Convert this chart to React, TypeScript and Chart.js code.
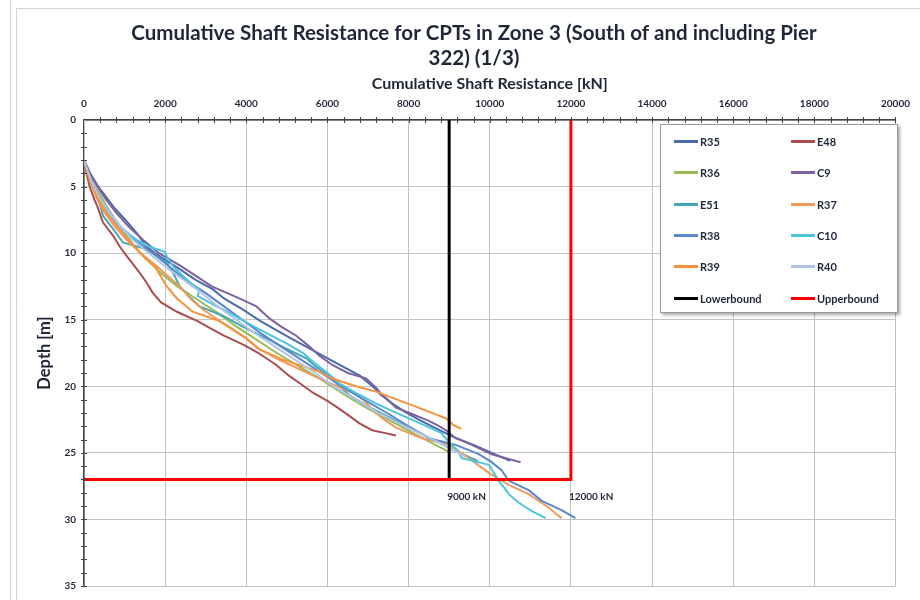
import React, { useEffect, useRef } from "react";
import { Chart, registerables } from "chart.js";

Chart.register(...registerables);

const TITLE_LINES = [
  "Cumulative Shaft Resistance for CPTs in Zone 3 (South of and including Pier",
  "322) (1/3)",
];
const X_TITLE = "Cumulative Shaft Resistance [kN]";
const Y_TITLE = "Depth [m]";
const X_MIN = 0;
const X_MAX = 20000;
const X_STEP = 2000;
const X_MINOR = 400;
const Y_MIN = 0;
const Y_MAX = 35;
const Y_STEP = 5;
const Y_MINOR = 1;

const SERIES_NAMES = ["R35", "E48", "R36", "C9", "E51", "R37", "R38", "C10", "R39", "R40", "Lowerbound", "Upperbound"];
const SERIES_COLORS = [
  "#4A6BA8", "#A84E4E", "#9BBB59", "#7E62A0", "#45A6B8", "#EE9A5C",
  "#5A86CC", "#4CC4DE", "#F7923A", "#B2C5E2", "#000000", "#FF0000",
];

// depth [m] / cumulative shaft resistance [kN]
const R35_DEPTH = [3, 4, 5, 5.5, 6.5, 7.6, 8.5, 9.5, 10, 10.6, 11.2, 12, 12.7, 13.4, 14.2, 15.1, 15.8, 16.4, 17.4, 18.4, 19.2, 20.1, 20.6, 21.3, 21.9, 22.5, 23.2, 23.8, 24.4, 25, 25.6];
const R35_KN = [0, 150, 350, 480, 720, 1050, 1300, 1540, 1750, 2050, 2360, 2750, 3170, 3450, 3900, 4350, 4750, 5100, 5700, 6300, 6800, 7150, 7300, 7600, 7900, 8250, 8700, 9100, 9600, 10050, 10500];

const E48_DEPTH = [3, 4, 5, 6, 6.5, 7.7, 8.7, 9.5, 10.2, 11, 11.6, 12.2, 13, 13.7, 14.4, 15.1, 15.7, 16.2, 16.9, 17.5, 18.4, 19.2, 19.9, 20.5, 21.1, 21.6, 22.2, 22.8, 23.3, 23.5, 23.7];
const E48_KN = [0, 60, 140, 260, 330, 470, 720, 880, 1050, 1250, 1400, 1540, 1700, 1900, 2290, 2800, 3150, 3450, 3950, 4300, 4740, 5050, 5380, 5650, 6000, 6250, 6530, 6800, 7100, 7400, 7690];

const R36_DEPTH = [3, 4, 5, 5.7, 6.6, 7.5, 8.5, 9.5, 10.5, 11.5, 12.5, 13.5, 14.5, 15.5, 16.5, 17.5, 18.5, 19.5, 20.5, 21.5, 22.5, 23.5, 24.3, 25];
const R36_KN = [0, 120, 260, 420, 580, 760, 1000, 1250, 1550, 1900, 2300, 2800, 3300, 3750, 4250, 4750, 5300, 5850, 6350, 6900, 7500, 8100, 8600, 9050];

const C9_DEPTH = [3, 4, 5, 6, 7, 8, 9, 10, 11, 11.9, 12.5, 13.4, 14, 14.9, 15.5, 16.2, 17, 17.7, 18.4, 19, 19.4, 20.1, 20.5, 21, 21.6, 22.1, 22.6, 23, 23.3, 23.9, 24.4, 25.1, 25.4, 25.7];
const C9_KN = [0, 140, 330, 550, 800, 1100, 1450, 1850, 2400, 2850, 3150, 3830, 4250, 4570, 4850, 5230, 5550, 5800, 6120, 6500, 6950, 7200, 7300, 7480, 7690, 8100, 8500, 8750, 8920, 9160, 9560, 10050, 10400, 10760];

const E51_DEPTH = [3, 4, 5, 6, 7.2, 8.2, 9.2, 9.7, 10.7, 11.5, 12.5, 13.3, 14, 14.7, 15.5, 16.4, 17.2, 17.9, 18.5, 19.2, 20, 20.7, 21.5, 22.3, 23, 23.7, 24.3, 24.8, 25.2, 25.6];
const E51_KN = [0, 100, 230, 360, 470, 720, 960, 1540, 2040, 2200, 2360, 2600, 2850, 3420, 3900, 4500, 5000, 5480, 5700, 6040, 6300, 6550, 7000, 7500, 7950, 8400, 8800, 9100, 9400, 9700];

const R37_DEPTH = [3, 4, 5, 6, 7, 8, 9, 10, 11, 12.5, 13.5, 14.2, 15, 15.7, 16.4, 17.2, 18, 18.7, 19.4, 20, 20.6, 21.2, 21.9, 22.5, 23.1, 23.5, 23.9, 24.4, 24.9, 25.4, 26, 26.5, 27, 27.4, 28.1, 28.6, 29.1, 29.5, 29.9];
const R37_KN = [0, 80, 200, 330, 520, 760, 1050, 1400, 1800, 2360, 2650, 2920, 3300, 3660, 4000, 4320, 4800, 5300, 5800, 6250, 6700, 6950, 7150, 7400, 7690, 8000, 8330, 9000, 9250, 9490, 9750, 9980, 10250, 10470, 10960, 11200, 11450, 11600, 11770];

const R38_DEPTH = [3, 4, 5, 6, 7, 8, 9, 10, 11, 12, 13, 14, 15, 16, 17, 18, 19, 20, 21, 22.1, 23, 23.9, 24.4, 25.1, 25.7, 26.3, 27.1, 27.8, 28.6, 29.3, 29.9];
const R38_KN = [0, 100, 250, 420, 650, 900, 1250, 1700, 2100, 2500, 3000, 3450, 3900, 4350, 4850, 5350, 5850, 6350, 6900, 7520, 8000, 8500, 9160, 9730, 10050, 10290, 10470, 10960, 11280, 11770, 12110];

const C10_DEPTH = [3, 4, 5, 6, 7, 8, 9, 9.5, 9.9, 10.3, 11, 11.6, 12.3, 12.8, 13.2, 13.8, 14.5, 15.2, 16, 16.8, 17.5, 18.3, 19, 19.8, 20.5, 21.3, 22, 22.8, 23.5, 24.2, 24.8, 25.4, 25.9, 26.5, 27.1, 27.6, 28.1, 28.5, 28.9, 29.4, 29.9];
const C10_KN = [0, 110, 240, 400, 580, 850, 1300, 1600, 1990, 2050, 2200, 2400, 2650, 2850, 2800, 3150, 3600, 4000, 4500, 5000, 5400, 5700, 6000, 6300, 6700, 7200, 7700, 8300, 8800, 9000, 9200, 9310, 9980, 10100, 10220, 10350, 10470, 10620, 10790, 11050, 11380];

const R39_DEPTH = [3, 4, 5, 6, 7, 8, 9, 10.2, 11, 12.5, 13.4, 14.4, 15.1, 16.4, 17.2, 18, 18.9, 19.4, 20, 20.4, 21.1, 21.9, 22.4, 22.9, 23.2];
const R39_KN = [0, 90, 220, 380, 560, 820, 1100, 1450, 1750, 2040, 2290, 2680, 3340, 4000, 4300, 4900, 5800, 6100, 6700, 7200, 7800, 8500, 8920, 9100, 9300];

const R40_DEPTH = [0, 3, 4, 5, 6, 7, 8, 9, 10, 11, 12, 13, 14, 15, 16, 17, 18, 19, 20, 21, 22, 23, 24, 24.6, 25.3];
const R40_KN = [0, 0, 110, 240, 420, 640, 900, 1200, 1600, 2000, 2450, 2900, 3300, 3750, 4200, 4700, 5200, 5700, 6150, 6700, 7250, 7900, 8600, 9000, 9400];

const LOWER_DEPTH = [0, 27];
const LOWER_KN = [9000, 9000];
const UPPER_DEPTH = [0, 27, 27];
const UPPER_KN = [12000, 12000, 0];

const BOUND_LABELS = ["9000 kN", "12000 kN"];
const BOUND_LABEL_KN = [9000, 12000];
const BOUND_LABEL_DEPTH = 28.3;

const SERIES_DEPTHS = [R35_DEPTH, E48_DEPTH, R36_DEPTH, C9_DEPTH, E51_DEPTH, R37_DEPTH, R38_DEPTH, C10_DEPTH, R39_DEPTH, R40_DEPTH, LOWER_DEPTH, UPPER_DEPTH];
const SERIES_KN = [R35_KN, E48_KN, R36_KN, C9_KN, E51_KN, R37_KN, R38_KN, C10_KN, R39_KN, R40_KN, LOWER_KN, UPPER_KN];

const FONT = "Lato, 'Open Sans', sans-serif";
const TEXT_COLOR = "#1f2638";

const framePlugin = {
  id: "frame",
  beforeDraw(chart: any) {
    const { ctx, width, height } = chart;
    ctx.save();
    ctx.fillStyle = "#ffffff";
    ctx.fillRect(0, 0, width, height);
    ctx.strokeStyle = "#d4d4d4";
    ctx.lineWidth = 1;
    ctx.beginPath();
    ctx.moveTo(10.5, 0);
    ctx.lineTo(10.5, height);
    ctx.moveTo(16.5, height);
    ctx.lineTo(16.5, 8.5);
    ctx.lineTo(width, 8.5);
    ctx.stroke();
    ctx.restore();
  },
};

const extrasPlugin = {
  id: "extras",
  afterDraw(chart: any) {
    const { ctx, scales } = chart;
    const xs = scales.x;
    const ys = scales.y;
    ctx.save();
    ctx.strokeStyle = "#444";
    ctx.lineWidth = 1;
    ctx.beginPath();
    for (let v = X_MIN + X_MINOR; v <= X_MAX; v += X_MINOR) {
      const px = Math.round(xs.getPixelForValue(v)) + 0.5;
      ctx.moveTo(px, ys.top - 3);
      ctx.lineTo(px, ys.top + 3);
    }
    for (let v = Y_MIN + Y_MINOR; v <= Y_MAX; v += Y_MINOR) {
      const py = Math.round(ys.getPixelForValue(v)) + 0.5;
      ctx.moveTo(xs.left - 3, py);
      ctx.lineTo(xs.left + 3, py);
    }
    ctx.stroke();
    ctx.fillStyle = TEXT_COLOR;
    ctx.font = `bold 10px ${FONT}`;
    ctx.textAlign = "left";
    ctx.textBaseline = "middle";
    BOUND_LABELS.forEach((t, i) => {
      ctx.fillText(t, xs.getPixelForValue(BOUND_LABEL_KN[i]) - 2, ys.getPixelForValue(BOUND_LABEL_DEPTH));
    });
    ctx.restore();
  },
};

export default function App() {
  const ref = useRef<HTMLCanvasElement | null>(null);

  useEffect(() => {
    if (!ref.current) return;
    const n = SERIES_NAMES.length;
    const datasets = SERIES_NAMES.map((name, i) => ({
      label: name,
      data: SERIES_DEPTHS[i].map((d, j) => ({ x: SERIES_KN[i][j], y: d })),
      borderColor: SERIES_COLORS[i],
      backgroundColor: SERIES_COLORS[i],
      borderWidth: i >= 10 ? 3 : 2,
      pointRadius: 0,
      tension: 0,
      fill: false,
      order: n - i,
    }));
    const chart = new Chart(ref.current, {
      type: "line",
      data: { datasets },
      plugins: [framePlugin, extrasPlugin],
      options: {
        animation: false,
        responsive: false,
        layout: { padding: { left: 50, right: 22, top: 0, bottom: 12 } },
        plugins: {
          legend: { display: false },
          tooltip: { enabled: false },
          title: {
            display: true,
            text: TITLE_LINES,
            color: TEXT_COLOR,
            font: { family: FONT, size: 20.5, weight: "bold", lineHeight: 1.22 },
            padding: { top: 20.5, bottom: 0 },
          },
        },
        scales: {
          x: {
            type: "linear",
            position: "top",
            min: X_MIN,
            max: X_MAX,
            ticks: {
              stepSize: X_STEP,
              padding: 10,
              color: TEXT_COLOR,
              font: { family: FONT, size: 10, weight: "bold" },
              callback: (v: any) => String(v),
            },
            grid: { color: "#c2c2c2", lineWidth: 1, drawTicks: false },
            border: { color: "#444", width: 1.5 },
            title: {
              display: true,
              text: X_TITLE,
              color: TEXT_COLOR,
              font: { family: FONT, size: 16, weight: "bold" },
              padding: { top: 3.9, bottom: 0 },
            },
            afterFit: (s: any) => {
              s.height = 49.5;
            },
          },
          y: {
            type: "linear",
            reverse: true,
            min: Y_MIN,
            max: Y_MAX,
            ticks: {
              stepSize: Y_STEP,
              padding: 8,
              color: TEXT_COLOR,
              font: { family: FONT, size: 10, weight: "bold" },
            },
            grid: { color: "#c2c2c2", lineWidth: 1, drawTicks: false },
            border: { color: "#444", width: 1.5 },
            title: {
              display: true,
              text: Y_TITLE,
              color: TEXT_COLOR,
              font: { family: FONT, size: 16.5, weight: "bold" },
              padding: { top: -14.9, bottom: 0 },
            },
            afterFit: (s: any) => {
              s.width = 34;
            },
          },
        },
      },
    } as any);
    return () => chart.destroy();
  }, []);

  return (
    <div style={{ position: "absolute", left: 0, top: 0, width: 920, height: 600, background: "#fff" }}>
      <canvas ref={ref} width={920} height={600} style={{ display: "block", width: 920, height: 600 }} />
      <div
        style={{
          position: "absolute",
          left: 660,
          top: 124,
          width: 238,
          height: 189,
          boxSizing: "border-box",
          background: "#fff",
          border: "1px solid #9a9a9a",
          boxShadow: "2px 2px 3px rgba(0,0,0,0.35)",
          padding: "1px 0 0 13px",
          display: "grid",
          gridTemplateColumns: "117px 117px",
          gridAutoRows: "31.3px",
          fontFamily: FONT,
          fontWeight: "bold",
          fontSize: 11,
          color: TEXT_COLOR,
        }}
      >
        {SERIES_NAMES.map((name, i) => (
          <div key={name} style={{ display: "flex", alignItems: "center" }}>
            <span style={{ display: "inline-block", width: 24, height: 3, background: SERIES_COLORS[i], marginRight: 2 }} />
            <span>{name}</span>
          </div>
        ))}
      </div>
    </div>
  );
}
